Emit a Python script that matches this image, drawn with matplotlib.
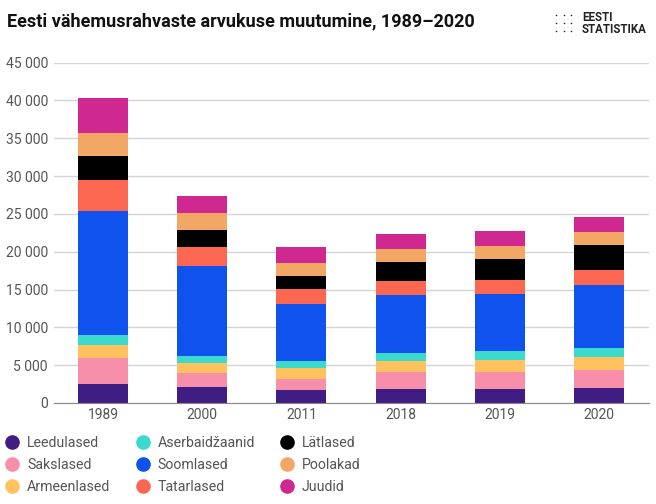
import matplotlib
matplotlib.use("Agg")
import matplotlib.pyplot as plt
from matplotlib.lines import Line2D
import numpy as np

plt.rcParams['font.family'] = ['Roboto', 'DejaVu Sans']

years = ["1989", "2000", "2011", "2018", "2019", "2020"]
names = ["Leedulased", "Sakslased", "Armeenlased", "Aserbaidžaanid", "Soomlased",
         "Tatarlased", "Lätlased", "Poolakad", "Juudid"]
colors = ["#401d82", "#f78fab", "#ffc25f", "#3bdacd", "#0f52ee",
          "#fb6750", "#000000", "#f2a864", "#cf2891"]

leedu = [2540, 2060, 1670, 1840, 1840, 1970]
saksa = [3420, 1930, 1490, 2240, 2240, 2370]
armeen = [1670, 1320, 1490, 1450, 1620, 1710]
aser = [1320, 920, 920, 1090, 1230, 1230]
soome = [16450, 11840, 7460, 7630, 7540, 8250]
tatar = [4080, 2500, 2010, 1890, 1850, 2050]
lati = [3160, 2320, 1760, 2500, 2760, 3290]
poola = [2980, 2200, 1660, 1670, 1620, 1710]
juudi = [4710, 2250, 2120, 2000, 2030, 1960]
series = [leedu, saksa, armeen, aser, soome, tatar, lati, poola, juudi]

yticks = [0, 5000, 10000, 15000, 20000, 25000, 30000, 35000, 40000, 45000]
ylabels = ["0", "5 000", "10 000", "15 000", "20 000", "25 000", "30 000", "35 000", "40 000", "45 000"]

W, H = 656, 504
fig = plt.figure(figsize=(W / 100, H / 100), dpi=100)
ax = fig.add_axes([53.5 / W, 1 - 403 / H, 595 / W, 340.5 / H])

x = np.arange(len(years))
bottom = np.zeros(len(years))
handles = []
for vals, name, col in zip(series, names, colors):
    ax.bar(x, vals, width=0.505, bottom=bottom, color=col, zorder=3)
    bottom = bottom + np.array(vals)
    handles.append(Line2D([], [], marker='o', linestyle='none', color=col, markersize=9.5, label=name))

ax.set_xlim(-0.5, 5.5)
ax.set_ylim(0, 45000)
ax.set_yticks(yticks)
ax.set_yticklabels(ylabels)
ax.set_xticks(x)
ax.set_xticklabels(years)
ax.tick_params(axis='both', length=0, labelsize=10, labelcolor='#555555')
ax.tick_params(axis='y', pad=4)
ax.tick_params(axis='x', pad=3.5)
ax.grid(axis='y', color='#d4d4d4', linewidth=1, zorder=0)
ax.set_axisbelow(True)
for s in ['top', 'right', 'left']:
    ax.spines[s].set_visible(False)
ax.spines['bottom'].set_color('#888888')
ax.spines['bottom'].set_zorder(5)

fig.legend(handles=handles, ncol=3, loc='upper left', bbox_to_anchor=(6 / W, 1 - 436 / H),
           frameon=False, fontsize=10.2, labelcolor='#555555', handlelength=0.9, handletextpad=0.6,
           columnspacing=1.81, labelspacing=0.58, borderaxespad=0, borderpad=0)

fig.text(7 / W, 1 - 21 / H, "Eesti vähemusrahvaste arvukuse muutumine, 1989–2020",
         fontsize=13.0, fontweight='bold', color='#111111', va='center', ha='left')

# logo
logo_x = [556, 563.5, 571]
logo_y = [15, 23, 30.7]
for lx in logo_x:
    for ly in logo_y:
        fig.add_artist(Line2D([lx / W], [1 - ly / H], marker='o', markersize=1.1, markeredgewidth=0,
                              color='#222222', linestyle='none', transform=fig.transFigure))
fig.text(582 / W, 1 - 17.5 / H, "EESTI", fontsize=8.3, fontweight='bold', color='#222222', va='center')
fig.text(582 / W, 1 - 29.5 / H, "STATISTIKA", fontsize=8.3, fontweight='bold', color='#222222', va='center')

fig.savefig("out.png", dpi=100)
